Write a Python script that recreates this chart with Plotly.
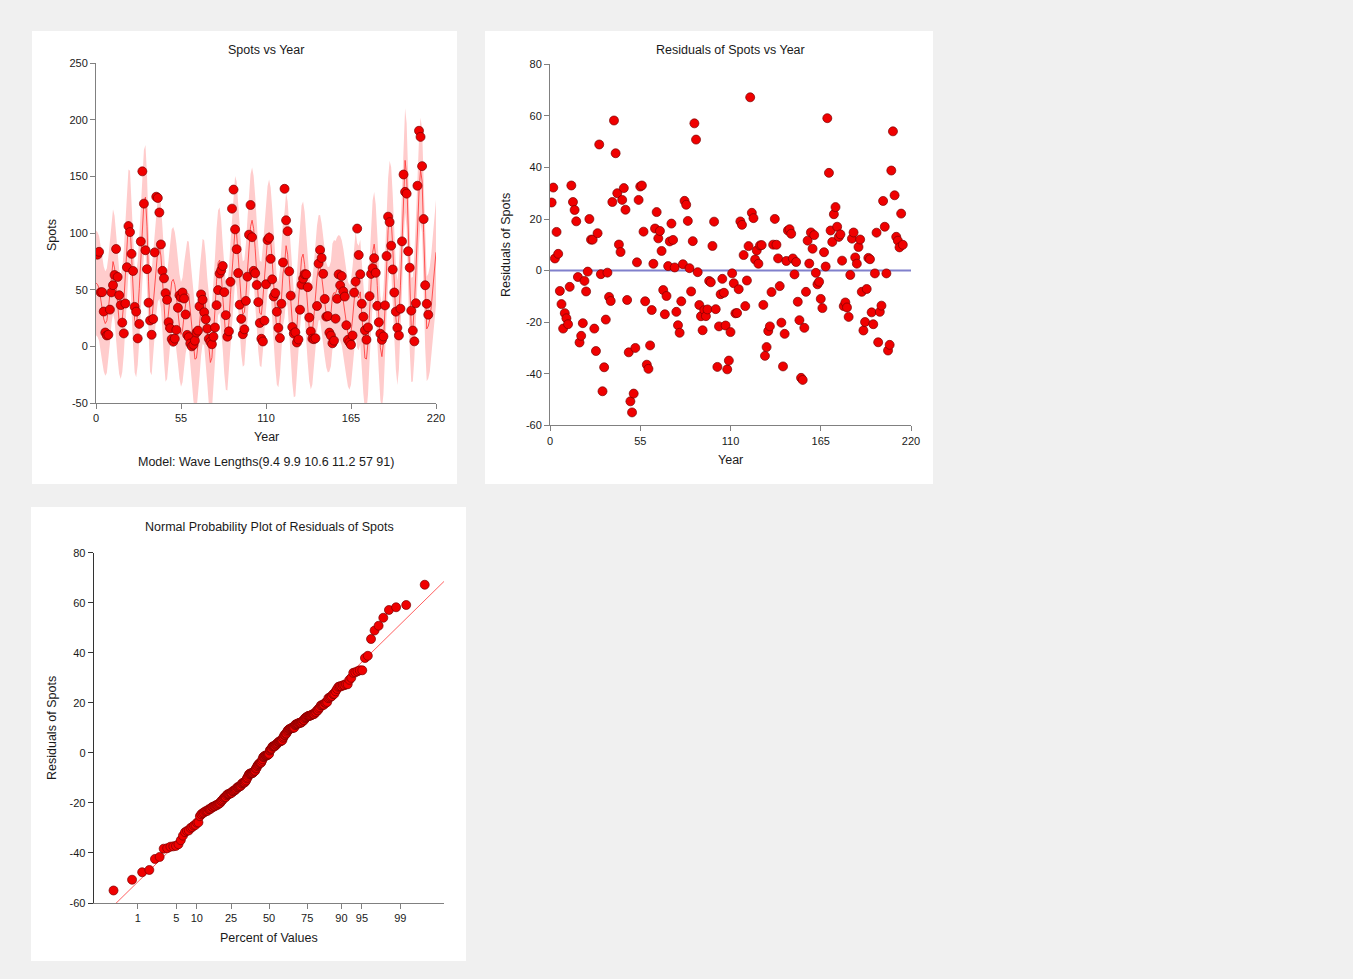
import numpy as np
import plotly.graph_objects as go
from statistics import NormalDist

W, H = 1353, 979

# Yearly sunspot numbers (Year index 1..215)
spots = [
    80.9,
    83.4, 47.7, 47.8, 30.7, 12.2, 9.6, 10.2, 32.4, 47.6, 54.0,
    62.9, 85.9, 61.2, 45.1, 36.4, 20.9, 11.4, 37.8, 69.8, 106.1,
    100.8, 81.6, 66.5, 34.8, 30.6, 7.0, 19.8, 92.5, 154.4, 125.9,
    84.8, 68.1, 38.5, 22.8, 10.2, 24.1, 82.9, 132.0, 130.9, 118.1,
    89.9, 66.6, 60.0, 46.9, 41.0, 21.3, 16.0, 6.4, 4.1, 6.8,
    14.5, 34.0, 45.0, 43.1, 47.5, 42.2, 28.1, 10.1, 8.1, 2.5,
    0.0, 1.4, 5.0, 12.2, 13.9, 35.4, 45.8, 41.1, 30.1, 23.9,
    15.6, 6.6, 4.0, 1.8, 8.5, 16.6, 36.3, 49.6, 64.2, 67.0,
    70.9, 47.8, 27.5, 8.5, 13.2, 56.9, 121.5, 138.3, 103.2, 85.7,
    64.6, 36.7, 24.2, 10.7, 15.0, 40.1, 61.5, 98.5, 124.7, 96.3,
    66.6, 64.5, 54.1, 39.0, 20.6, 6.7, 4.3, 22.7, 54.8, 93.8,
    95.8, 77.2, 59.1, 44.0, 47.0, 30.5, 16.3, 7.3, 37.6, 74.0,
    139.0, 111.2, 101.6, 66.2, 44.7, 17.0, 11.3, 12.4, 3.4, 6.0,
    32.3, 54.3, 59.7, 63.7, 63.5, 52.2, 25.4, 13.1, 6.8, 6.3,
    7.1, 35.6, 73.0, 85.1, 78.0, 64.0, 41.8, 26.2, 26.7, 12.1,
    9.5, 2.7, 5.0, 24.4, 42.0, 63.5, 53.8, 62.0, 48.5, 43.9,
    18.6, 5.7, 3.6, 1.4, 9.6, 47.4, 57.1, 103.9, 80.6, 63.6,
    37.6, 26.1, 14.2, 5.8, 16.7, 44.3, 63.9, 69.0, 77.8, 64.9,
    35.7, 21.2, 11.1, 5.7, 8.7, 36.1, 79.7, 114.4, 109.6, 88.8,
    67.8, 47.5, 30.6, 16.3, 9.6, 33.2, 92.6, 151.6, 136.3, 134.7,
    83.9, 69.4, 31.5, 13.9, 4.4, 38.0, 141.7, 190.2, 184.8, 159.0,
    112.3, 53.9, 37.5, 27.9,
]
years = list(range(1, len(spots) + 1))
wave_lengths = [9.4, 9.9, 10.6, 11.2, 57, 91]

# residuals
read_years = (list(range(1, 61)) + [88, 89, 108, 122, 153, 154, 169, 170]
              + list(range(195, 216)))
read_resid = [26.4, 32.2, 4.7, 15, 6.5, -7.9, -13, -22.5, -16.5, -18.5,
              -20.8, -6.3, 33, 26.6, 23.5, 19.1, -2.5, -27.9, -25.3, -20.4,
              -4, -8.1, -0.4, 20, 12, 12, -22.5, -31.2, 14.5, 48.9,
              -1.4, -46.8, -37.5, -19, -0.8, -10.2, -11.8, 26.6, 58.2, 45.5,
              30, 10.1, 7.2, 27.4, 32, 23.6, -11.4, -31.7, -50.7, -55,
              -47.7, -30, 3.2, 27.4, 32.6, 33, 15.1, -11.9, -36.5, -38.1,
              57.1, 50.8, -38.3, 67.2, -41.6, -42.4, 59.1, 37.9,
              4.4, -16.2, -20.8, -1.1, 14.7, -27.8, -16, -13.6, 27, 17,
              -1.1, -31, -28.8, 38.8, 54, 29.2, 13.1, 11.6, 9.0, 22.1, 10.0]
# fitted curve outside the data range
fit_start_year, fit_start = 0, 56
forecast_years = [216, 217, 218, 219, 220]
forecast_fit = [24, 36, 51, 67, 83]

year_ticks = [0, 55, 110, 165, 220]
spots_ticks = [-50, 0, 50, 100, 150, 200, 250]
resid_ticks = [-60, -40, -20, 0, 20, 40, 60, 80]
pct_ticks = [1, 5, 10, 25, 50, 75, 90, 95, 99]

t = np.array(years, float)
y = np.array(spots, float)
ri = np.array(read_years) - 1
rr = np.array(read_resid, float)

def design(tt, per):
    cols = [np.ones_like(tt)]
    for p in per:
        cols += [np.cos(2 * np.pi * tt / p), np.sin(2 * np.pi * tt / p)]
    return np.column_stack(cols)

def model_resid(per):
    X = design(t, per)
    b, *_ = np.linalg.lstsq(X, y, rcond=None)
    return y - X @ b

cal = np.array(read_years) < 195
def mismatch(per):
    d = model_resid(per)[ri[cal]] - rr[cal]
    return d @ d

lo = [9.05, 9.55, 10.25, 10.85, 45.0, 75.0]
hi = [9.75, 10.25, 10.95, 11.55, 70.0, 120.0]

best, per = None, list(map(float, wave_lengths))
g = [np.linspace(lo[i], hi[i], 11) for i in range(4)]
for a in g[0]:
    for b_ in g[1]:
        for c in g[2]:
            for d in g[3]:
                pp = [a, b_, c, d, 57.0, 91.0]
                m = mismatch(pp)
                if best is None or m < best:
                    best, per = m, pp
for sweep in range(10):
    for i in range(6):
        w = (hi[i] - lo[i]) / (2 + sweep)
        grid = np.clip(np.linspace(per[i] - w, per[i] + w, 41), lo[i], hi[i])
        vals = []
        for gv in grid:
            pp = per.copy(); pp[i] = gv
            vals.append(mismatch(pp))
        per[i] = float(grid[int(np.argmin(vals))])

X = design(t, per)
beta, *_ = np.linalg.lstsq(X, y, rcond=None)
resid = y - X @ beta
resid[ri] = rr                      # read values take precedence
fit = y - resid
n, k = X.shape
s = np.sqrt(resid @ resid / (n - k))
XtXi = np.linalg.inv(X.T @ X)

tg = np.array([fit_start_year] + years + forecast_years, float)
fg = np.concatenate([[fit_start], fit, forecast_fit])
Xg = design(tg, per)
hg = np.einsum('ij,jk,ik->i', Xg, XtXi, Xg)
half = 1.972 * s * np.sqrt(1 + hg)
upper = fg + half
lower = fg - half

nd = NormalDist()
rs = np.sort(resid)
zq = np.array([nd.inv_cdf((i - 0.375) / (n + 0.25)) for i in range(1, n + 1)])
zr = [-3.11, 3.10]
mu, sd = resid.mean(), resid.std(ddof=1)

FONT = "Liberation Sans, Arial, sans-serif"
RED = "#f00000"
EDGE = "#7a0000"

fig = go.Figure()

def xd(a, b):
    return [a / W, b / W]

def yd(top, bottom):
    return [1 - bottom / H, 1 - top / H]

def ax(dom, rng, tickvals, ticktext=None, anchor=None, lc="#808080"):
    if ticktext is None:
        ticktext = [str(v) for v in tickvals]
    return dict(domain=dom, range=rng, tickvals=tickvals, ticktext=ticktext, showline=True,
                linecolor=lc, linewidth=1, ticks="outside", ticklen=5, tickcolor=lc,
                showgrid=False, zeroline=False, automargin=False,
                tickfont=dict(family=FONT, size=11, color="#1a1a1a"),
                fixedrange=True, anchor=anchor)

fig.add_trace(go.Scatter(x=np.concatenate([tg, tg[::-1]]), y=np.concatenate([upper, lower[::-1]]),
                         fill="toself", fillcolor="#ffcccc", line=dict(width=0), mode="lines",
                         xaxis="x", yaxis="y", hoverinfo="skip"))
fig.add_trace(go.Scatter(x=tg, y=fg, mode="lines", line=dict(color="#ff3030", width=0.8),
                         xaxis="x", yaxis="y"))
fig.add_trace(go.Scatter(x=years, y=spots, mode="markers",
                         marker=dict(size=9, color=RED, line=dict(color=EDGE, width=0.7)),
                         xaxis="x", yaxis="y"))
fig.add_trace(go.Scatter(x=[0, 220], y=[0, 0], mode="lines", line=dict(color="#8080cc", width=2),
                         xaxis="x2", yaxis="y2"))
fig.add_trace(go.Scatter(x=years, y=resid, mode="markers",
                         marker=dict(size=9, color=RED, line=dict(color=EDGE, width=0.7)),
                         xaxis="x2", yaxis="y2"))
fig.add_trace(go.Scatter(x=zr, y=[mu + sd * z for z in zr], mode="lines",
                         line=dict(color="#ff6060", width=1), xaxis="x3", yaxis="y3"))
fig.add_trace(go.Scatter(x=zq, y=rs, mode="markers",
                         marker=dict(size=9, color=RED, line=dict(color=EDGE, width=0.7)),
                         xaxis="x3", yaxis="y3"))

pct_pos = [nd.inv_cdf(p / 100) for p in pct_ticks]

fig.update_layout(
    width=W, height=H, margin=dict(l=0, r=0, t=0, b=0, autoexpand=False), showlegend=False,
    paper_bgcolor="#f0f0f0", plot_bgcolor="rgba(0,0,0,0)",
    xaxis=ax(xd(96, 436), [0, 220], year_ticks, anchor="y"),
    yaxis=ax(yd(63, 403), [-50, 250], spots_ticks, anchor="x"),
    xaxis2=ax(xd(550, 911), [0, 220], year_ticks, anchor="y2"),
    yaxis2=ax(yd(64.3, 425.3), [-60, 80], resid_ticks, anchor="x2"),
    xaxis3=ax(xd(93.7, 444), zr, pct_pos, [str(p) for p in pct_ticks], anchor="y3"),
    yaxis3=ax(yd(552.7, 903), [-60, 80], resid_ticks, anchor="x3", lc="#333333"),
)

for (x0, y0, x1, y1) in [(32, 31, 457, 484), (485, 31, 933, 484), (31, 507, 466, 961)]:
    fig.add_shape(type="rect", xref="paper", yref="paper", x0=x0 / W, x1=x1 / W,
                  y0=1 - y1 / H, y1=1 - y0 / H, fillcolor="white", line=dict(width=0), layer="below")

def ann(text, px, py, size=12.5, angle=0):
    fig.add_annotation(text=text, x=px / W, y=1 - py / H, xref="paper", yref="paper",
                       xanchor="center", yanchor="middle", showarrow=False, textangle=angle,
                       font=dict(family=FONT, size=size, color="#1a1a1a"))

ann("Spots vs Year", 266, 50)
ann("Year", 266, 437)
ann("Model: Wave Lengths(9.4 9.9 10.6 11.2 57 91)", 266, 462)
ann("Spots", 52, 235, angle=-90)
ann("Residuals of Spots vs Year", 730, 50)
ann("Year", 730, 460)
ann("Residuals of Spots", 506, 245, angle=-90)
ann("Normal Probability Plot of Residuals of Spots", 269, 527)
ann("Percent of Values", 269, 938)
ann("Residuals of Spots", 52, 728, angle=-90)

fig.write_html("out.html", default_width="1353px", default_height="979px",
               config={"displayModeBar": False, "responsive": False},
               post_script="document.body.style.margin='0';document.body.style.overflow='hidden';document.body.style.background='#f0f0f0';")
